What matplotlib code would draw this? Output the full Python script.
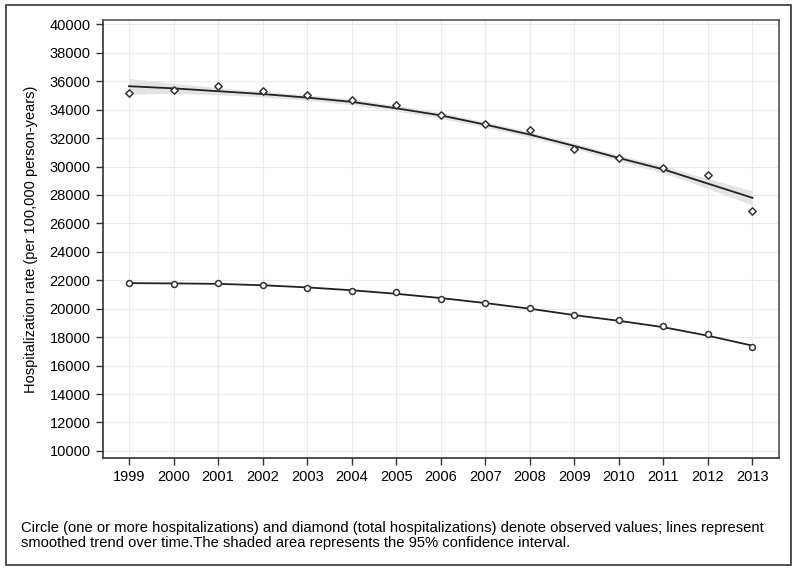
import numpy as np
import matplotlib
matplotlib.use('Agg')
import matplotlib.pyplot as plt
from matplotlib.patches import Rectangle

plt.rcParams['font.family'] = ['Liberation Sans', 'DejaVu Sans']

years = list(range(1999, 2014))

# observed values (diamond = total hospitalizations, circle = one or more)
total_obs = [35200, 35400, 35700, 35300, 35050, 34650, 34350, 33600,
             33000, 32600, 31200, 30600, 29900, 29400, 26900]
one_obs = [21800, 21750, 21800, 21700, 21450, 21250, 21150, 20700,
           20400, 20050, 19550, 19200, 18800, 18250, 17300]

# smoothed trends
total_fit = [35650, 35500, 35300, 35100, 34850, 34550, 34100, 33600,
             32950, 32250, 31450, 30600, 29800, 28800, 27800]
total_lo = [35100, 35150, 35050, 34900, 34650, 34350, 33900, 33400,
            32750, 32050, 31250, 30400, 29550, 28450, 27300]
total_hi = [36200, 35850, 35550, 35300, 35050, 34750, 34300, 33800,
            33150, 32450, 31650, 30800, 30050, 29150, 28300]
one_fit = [21800, 21780, 21750, 21650, 21500, 21300, 21050, 20750,
           20400, 20000, 19550, 19150, 18700, 18100, 17400]

fig = plt.figure(figsize=(8, 5.75), dpi=100)
ax = fig.add_axes([0.129, 0.2035, 0.845, 0.7615])

ax.fill_between(years, total_lo, total_hi, color='#e4e4e4', lw=0, zorder=1)
ax.plot(years, total_fit, color='#222222', lw=1.3, zorder=2)
ax.plot(years, one_fit, color='#222222', lw=1.3, zorder=2)
ax.scatter(years, total_obs, marker='D', s=14, facecolors='white',
           edgecolors='#333333', linewidths=1.1, zorder=3)
ax.scatter(years, one_obs, marker='o', s=18, facecolors='white',
           edgecolors='#333333', linewidths=1.1, zorder=3)

ax.set_xlim(1998.42, 2013.6)
ax.set_ylim(9500, 40300)
ax.set_xticks(years)
ax.set_yticks(range(10000, 40001, 2000))
ax.grid(True, color='#ebebeb', lw=0.8, zorder=0)
ax.set_axisbelow(True)
ax.tick_params(direction='out', length=5, width=1, color='#333333',
               labelsize=10.5, pad=4)
for s in ax.spines.values():
    s.set_color('#555555')
    s.set_linewidth(1.2)
ax.spines['left'].set_color('#333333')
ax.spines['bottom'].set_color('#333333')
ax.set_ylabel('Hospitalization rate (per 100,000 person-years)', fontsize=10.5,
              labelpad=8)

fig.text(0.026, 0.068,
         'Circle (one or more hospitalizations) and diamond (total hospitalizations) '
         'denote observed values; lines represent\nsmoothed trend over time.'
         'The shaded area represents the 95% confidence interval.',
         fontsize=10.6, ha='left', va='center', linespacing=1.1)

fig.patches.append(Rectangle((0.007, 0.017), 0.982, 0.974, transform=fig.transFigure,
                             fill=False, edgecolor='#333333', lw=1.2))

fig.savefig('out.png', dpi=100)
